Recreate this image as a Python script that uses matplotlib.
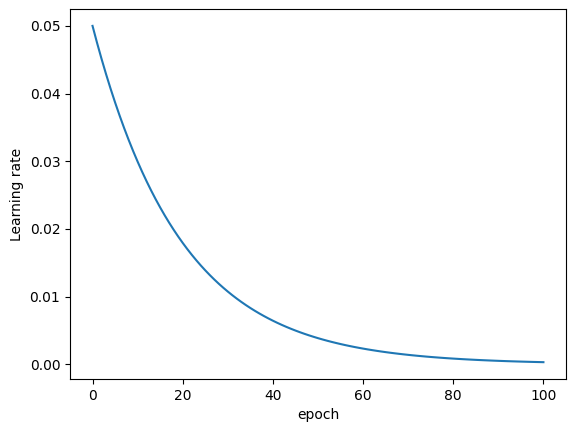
import matplotlib
matplotlib.use("Agg")
import matplotlib.pyplot as plt

# learning rate per epoch
epochs = list(range(0, 101))
lr = [
    0.050000, 0.047500, 0.045125, 0.042869, 0.040725, 0.038689, 0.036755, 0.034917, 0.033171, 0.031512,
    0.029937, 0.028440, 0.027018, 0.025667, 0.024384, 0.023165, 0.022006, 0.020906, 0.019861, 0.018868,
    0.017924, 0.017028, 0.016177, 0.015368, 0.014599, 0.013870, 0.013176, 0.012517, 0.011891, 0.011297,
    0.010732, 0.010195, 0.009686, 0.009201, 0.008741, 0.008304, 0.007889, 0.007495, 0.007120, 0.006764,
    0.006426, 0.006104, 0.005799, 0.005509, 0.005234, 0.004972, 0.004723, 0.004487, 0.004263, 0.004050,
    0.003847, 0.003655, 0.003472, 0.003299, 0.003134, 0.002977, 0.002828, 0.002687, 0.002552, 0.002425,
    0.002304, 0.002188, 0.002079, 0.001975, 0.001876, 0.001782, 0.001693, 0.001609, 0.001528, 0.001452,
    0.001379, 0.001310, 0.001245, 0.001183, 0.001123, 0.001067, 0.001014, 0.000963, 0.000915, 0.000869,
    0.000826, 0.000785, 0.000745, 0.000708, 0.000673, 0.000639, 0.000607, 0.000577, 0.000548, 0.000521,
    0.000494, 0.000470, 0.000446, 0.000424, 0.000403, 0.000383, 0.000364, 0.000345, 0.000328, 0.000312,
    0.000296,
]

fig = plt.figure(figsize=(5.76, 4.32), dpi=100)
plt.subplots_adjust(left=0.1215, right=0.9826, top=0.979, bottom=0.1227)
plt.plot(epochs, lr)
plt.xlabel("epoch")
plt.ylabel("Learning rate")
plt.savefig("out.png")
